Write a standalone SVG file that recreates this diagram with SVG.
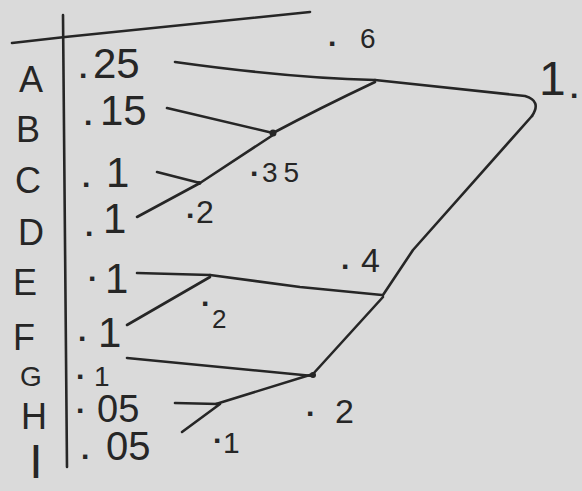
<svg xmlns="http://www.w3.org/2000/svg" width="582" height="491" viewBox="0 0 582 491">
<style>
.ink{fill:none;stroke:#262626;stroke-width:2.6;stroke-linecap:round;stroke-linejoin:round}
text{font-family:"Liberation Sans",Arial,sans-serif;fill:#262626}
.let{font-size:36px;text-anchor:middle}
.val{font-size:42px}
.lab{font-size:30px}
.d{font-size:30px;font-weight:bold}
</style>
<rect width="582" height="491" fill="#dadada"/>
<g id="table">
<path class="ink" d="M12,43 L65,37 Q190,24 310,12"/>
<path class="ink" d="M63,15 L67,467"/>
</g>
<g id="connectors">
<path class="ink" d="M175,62 Q290,78 375,80"/>
<path class="ink" d="M375,80 Q450,88 525,96 Q542,101 532,116"/>
<path class="ink" d="M532,116 L413,250 L383,295"/>
<path class="ink" d="M375,82 Q320,108 273,133"/>
<path class="ink" d="M167,108 L273,133"/>
<path class="ink" d="M273,135 L200,183"/>
<path class="ink" d="M157,172 L200,183"/>
<path class="ink" d="M137,217 L200,183"/>
<path class="ink" d="M137,273 L210,275"/>
<path class="ink" d="M210,275 L300,287 L382,295"/>
<path class="ink" d="M127,325 L210,277"/>
<path class="ink" d="M383,297 L313,374"/>
<path class="ink" d="M127,358 L313,376"/>
<path class="ink" d="M216,404 L313,374"/>
<path class="ink" d="M175,403 L218,404"/>
<path class="ink" d="M182,432 L220,404"/>
</g>
<g id="node-A"><text class="let" x="31" y="92">A</text><text class="val" y="78"><tspan class="d" x="79">.</tspan><tspan x="93">25</tspan></text></g>
<g id="node-B"><text class="let" x="28" y="142">B</text><text class="val" y="125"><tspan class="d" x="84">.</tspan><tspan x="100">15</tspan></text></g>
<g id="node-C"><text class="let" x="28" y="193">C</text><text class="val" y="187"><tspan class="d" x="82">.</tspan><tspan x="106">1</tspan></text></g>
<g id="node-D"><text class="let" x="31" y="245">D</text><text class="val" y="236"><tspan class="d" x="85">.</tspan><tspan x="103" y="233">1</tspan></text></g>
<g id="node-E"><text class="let" x="25" y="295">E</text><text class="val" y="281"><tspan class="d" x="88">.</tspan><tspan x="105" y="293">1</tspan></text></g>
<g id="node-F"><text class="let" x="24" y="350">F</text><text class="val" y="341"><tspan class="d" x="78">.</tspan><tspan x="98" y="347">1</tspan></text></g>
<g id="node-G"><text class="let" x="31" y="386" style="font-size:28px">G</text><text class="val" y="379" style="font-size:28px"><tspan class="d" x="76">.</tspan><tspan x="94" y="386">1</tspan></text></g>
<g id="node-H"><text class="let" x="34" y="429">H</text><text class="val" y="413" style="font-size:38px"><tspan class="d" x="76">.</tspan><tspan x="97" y="422">05</tspan></text></g>
<g id="node-I"><text class="let" x="36" y="478" style="font-size:48px">I</text><text class="val" y="459" style="font-size:40px"><tspan class="d" x="81">.</tspan><tspan x="106" y="460">05</tspan></text></g>
<g id="node-06"><text class="lab" y="46" style="font-size:28px"><tspan class="d" x="328">.</tspan><tspan x="360" y="48">6</tspan></text></g>
<g id="node-035"><circle cx="273" cy="133" r="3.5" fill="#262626"/><text class="lab" y="176" style="font-size:28px"><tspan class="d" x="250">.</tspan><tspan x="262" y="182" letter-spacing="6">35</tspan></text></g>
<g id="node-02a"><circle cx="199" cy="183" r="2" fill="#262626"/><text class="lab" y="218" style="font-size:32px"><tspan class="d" x="186">.</tspan><tspan x="196" y="223">2</tspan></text></g>
<g id="node-04"><text class="lab" y="269" style="font-size:34px"><tspan class="d" x="341">.</tspan><tspan x="361" y="272">4</tspan></text></g>
<g id="node-02b"><text class="lab" y="306" style="font-size:26px"><tspan class="d" x="201">.</tspan><tspan x="212" y="328">2</tspan></text></g>
<g id="node-02c"><circle cx="313" cy="375" r="3" fill="#262626"/><text class="lab" y="416" style="font-size:34px"><tspan class="d" x="306">.</tspan><tspan x="335" y="423">2</tspan></text></g>
<g id="node-01"><text class="lab" y="443"><tspan class="d" x="213">.</tspan><tspan x="223" y="453">1</tspan></text></g>
<g id="node-root"><text class="lab" y="95" style="font-size:48px"><tspan x="539">1</tspan><tspan class="d" x="570" y="98">.</tspan></text></g>
</svg>
